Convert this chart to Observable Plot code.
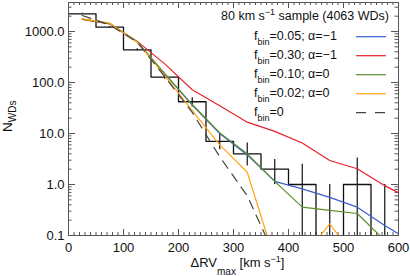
<!DOCTYPE html>
<html><head><meta charset="utf-8">
<script src="https://cdn.jsdelivr.net/npm/d3@7"></script>
<script src="https://cdn.jsdelivr.net/npm/@observablehq/plot@0.6"></script>
<style>body{margin:0;background:#fff;} svg{display:block}</style>
</head><body><div id="chart"></div>
<script>
// ---- data ----
const binEdges = [0, 50, 100, 150, 200, 250, 300, 350, 400, 450, 500, 550, 600];
const counts = [2225, 1215, 438, 128, 42, 7, 4, 2, 1, 0, 1, 0];
const binCenters = [25, 75, 125, 175, 225, 275, 325, 375, 425, 475, 525, 575];
const errLow = [2180, 1180, 418, 116, 33, 4.8, 2.3, 1.0, 0, 0, 0, 0];
const errHigh = [2270, 1250, 460, 140, 50, 10, 6.5, 3.1, 2.5, 1.0, 3.3, 1.0];

const modelX = [25, 75, 125, 175, 225, 275, 325, 375, 425, 475, 525, 575, 625];
const fbin005_am1 = [1750, 1430, 620, 148, 36, 10, 3.8, 1.15, 0.82, 0.56, 0.36, 0.157, 0.074];
const fbin030_am1 = [1720, 1415, 640, 232, 72, 35, 16.7, 11, 6.5, 2.95, 2.04, 0.95, 0.5];
const fbin010_a0 = [1750, 1430, 630, 150, 37, 10.3, 4.0, 1.15, 0.36, 0.31, 0.27, 0.08];
const fbin002_a0 = [1770, 1455, 617, 137, 28, 6.0, 1.74, 0.033, 0.035, 0.17, 0.032];
const fbin0 = [2060, 1350, 620, 130, 26, 3.5, 0.6, 0.04];

const legendTitle = ["80 km s", "\u22121", " sample (4063 WDs)"];
const legendLabels = ["=0.05; \u03b1=\u22121", "=0.30; \u03b1=\u22121", "=0.10; \u03b1=0", "=0.02; \u03b1=0", "=0"];
const xTicks = [0, 100, 200, 300, 400, 500, 600];
const yTicks = [0.1, 1, 10, 100, 1000];
const yTop = 3707;

// ---- styles ----
const colors = ["#3a5fcd", "#e8202a", "#5b8f29", "#ffa510", "#444"];
const dashes = [null, null, null, null, "9,7"];
const series = [fbin005_am1, fbin030_am1, fbin010_a0, fbin002_a0, fbin0];

const W = 410, H = 276, mL = 68, mR = 12, mT = 2, mB = 41;
const iW = W - mL - mR, iH = H - mT - mB;
const frameColor = "#555";

const xMinor = d3.range(0, 601, 10);
const yMinor = [];
for (const dec of yTicks) for (let k = 2; k <= 9; k++) { const v = dec * k; if (v < yTop) yMinor.push(v); }

const histPts = binEdges.slice(0, counts.length).map((x, i) => ({x, n: counts[i]}));
histPts.push({x: binEdges[binEdges.length - 1], n: counts[counts.length - 1]});
const errData = binCenters.map((x, i) => ({x, lo: errLow[i], hi: errHigh[i]}));

const lineMarks = series.map((arr, s) => Plot.line(arr.map((y, i) => ({x: modelX[i], y})), {
  x: "x", y: "y", stroke: colors[s], strokeWidth: 1.2, strokeDasharray: dashes[s], clip: true
}));

const plot = Plot.plot({
  width: W, height: H, marginLeft: mL, marginRight: mR, marginTop: mT, marginBottom: mB,
  style: {fontFamily: "'Liberation Sans', Arial, sans-serif", fontSize: "13px", background: "#fff", color: "#111"},
  x: {domain: [0, 600]},
  y: {type: "log", domain: [0.1, yTop]},
  marks: [
    Plot.axisX(xTicks, {tickSize: 0, tickPadding: 7.5, tickFormat: d => String(d), label: null, fontSize: 13}),
    Plot.axisY(yTicks, {tickSize: 0, tickPadding: 4, tickFormat: d => d >= 1 ? d.toFixed(1) : String(d), label: null, fontSize: 13}),
    Plot.tickX(xMinor, {x: d => d, insetTop: iH - 3, stroke: frameColor}),
    Plot.tickX(xTicks, {x: d => d, insetTop: iH - 6, stroke: frameColor}),
    Plot.tickX(xMinor, {x: d => d, insetBottom: iH - 3, stroke: frameColor}),
    Plot.tickX(xTicks, {x: d => d, insetBottom: iH - 6, stroke: frameColor}),
    Plot.tickY(yMinor, {y: d => d, insetRight: iW - 3.5, stroke: frameColor}),
    Plot.tickY(yTicks, {y: d => d, insetRight: iW - 7, stroke: frameColor}),
    Plot.tickY(yMinor, {y: d => d, insetLeft: iW - 3.5, stroke: frameColor}),
    Plot.tickY(yTicks, {y: d => d, insetLeft: iW - 7, stroke: frameColor}),
    Plot.line(histPts, {x: "x", y: d => d.n > 0 ? d.n : 1e-3, curve: "step-after", stroke: "#111", strokeWidth: 1.3, clip: true}),
    Plot.ruleX(errData, {x: "x", y1: d => d.lo > 0 ? d.lo : 1e-3, y2: "hi", stroke: "#111", strokeWidth: 1.2, clip: true}),
    ...lineMarks,
    Plot.frame({stroke: frameColor})
  ]
});

const svg = d3.select(plot);
const font = "'Liberation Sans', Arial, sans-serif";

// x label
const xl = svg.append("text").attr("x", 237.5).attr("y", 266.5).attr("text-anchor", "middle")
  .attr("font-family", font).attr("font-size", 13).attr("fill", "#111");
xl.append("tspan").text("\u0394RV");
xl.append("tspan").attr("dy", 8).attr("font-size", 10).text("max");
xl.append("tspan").attr("dy", -8).text(" [km s");
xl.append("tspan").attr("dy", -4.5).attr("font-size", 9).text("\u22121");
xl.append("tspan").attr("dy", 4.5).text("]");

// y label
const yl = svg.append("text").attr("transform", "translate(12,132) rotate(-90)").attr("text-anchor", "start")
  .attr("font-family", font).attr("font-size", 13.5).attr("fill", "#111");
yl.append("tspan").text("N");
yl.append("tspan").attr("dy", 3.5).attr("font-size", 10).text("WDs");

// legend
const lg = svg.append("g").attr("font-family", font).attr("font-size", 12.5).attr("fill", "#111");
const tt = lg.append("text").attr("x", 389).attr("y", 19.5).attr("text-anchor", "end");
tt.append("tspan").text(legendTitle[0]);
tt.append("tspan").attr("dy", -5).attr("font-size", 9).text(legendTitle[1]);
tt.append("tspan").attr("dy", 5).text(legendTitle[2]);
legendLabels.forEach((lab, i) => {
  const ly = 36.7 + i * 19;
  const t = lg.append("text").attr("x", 254).attr("y", ly + 3).attr("text-anchor", "start");
  t.append("tspan").text("f");
  t.append("tspan").attr("dy", 5.5).attr("font-size", 9).text("bin");
  t.append("tspan").attr("dy", -5.5).text(lab);
  lg.append("line").attr("x1", 356).attr("x2", 386).attr("y1", ly).attr("y2", ly)
    .attr("stroke", colors[i]).attr("stroke-width", 1.2).attr("stroke-dasharray", dashes[i] ? "10,9" : null);
});

document.getElementById("chart").appendChild(plot);
</script>
</body></html>
